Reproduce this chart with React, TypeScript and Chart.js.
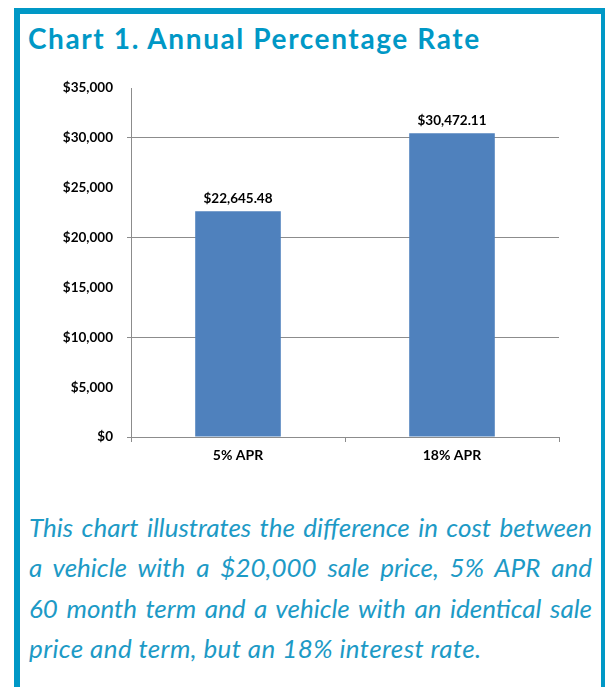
import React, { useEffect, useRef } from "react";
import { Chart, registerables } from "chart.js";

Chart.register(...registerables);

const titleText = "Chart 1. Annual Percentage Rate";
const categories = ["5% APR", "18% APR"];
const totalCost = [22645.48, 30472.11];
const valueLabels = ["$22,645.48", "$30,472.11"];
const yMin = 0;
const yMax = 35000;
const yStep = 5000;
const captionLines = [
  "This chart illustrates the difference in cost between",
  "a vehicle with a $20,000 sale price, 5% APR and",
  "60 month term and a vehicle with an identical sale",
  "price and term, but an 18% interest rate.",
];

const TEAL = "#0098c6";
const CAPTION = "#1d9ac6";
const BAR = "#4f81bd";
const AXIS = "#8c8c8c";

const valueLabelPlugin = {
  id: "valueLabels",
  afterDatasetsDraw(chart: any) {
    const ctx = chart.ctx;
    const meta = chart.getDatasetMeta(0);
    ctx.save();
    ctx.font = "bold 13.5px Lato";
    ctx.fillStyle = "#000";
    ctx.textAlign = "center";
    ctx.textBaseline = "alphabetic";
    meta.data.forEach((el: any, i: number) => {
      ctx.fillText(valueLabels[i], el.x, el.y - 8);
    });
    ctx.restore();
  },
};

export default function App() {
  const canvasRef = useRef<HTMLCanvasElement | null>(null);

  useEffect(() => {
    if (!canvasRef.current) return;
    const chart = new Chart(canvasRef.current, {
      type: "bar",
      data: {
        labels: categories,
        datasets: [
          {
            data: totalCost,
            backgroundColor: BAR,
            barPercentage: 0.4,
            categoryPercentage: 1,
          },
        ],
      },
      options: {
        animation: false,
        responsive: false,
        maintainAspectRatio: false,
        layout: { padding: { top: 10, right: 41, bottom: 0, left: 0 } },
        plugins: {
          legend: { display: false },
          tooltip: { enabled: false },
        },
        scales: {
          x: {
            grid: {
              offset: true,
              drawOnChartArea: false,
              tickLength: 5,
              tickColor: AXIS,
            },
            border: { color: AXIS, width: 1 },
            ticks: {
              color: "#000",
              font: { family: "Lato", weight: "bold", size: 14 },
              padding: 5,
            },
            afterFit: (scale: any) => {
              scale.height = 39;
            },
          },
          y: {
            min: yMin,
            max: yMax,
            grid: {
              tickLength: 4,
              color: (c: any) =>
                c.tick && c.tick.value > 0 && c.tick.value % 10000 === 0 ? AXIS : "rgba(0,0,0,0)",
              tickColor: (c: any) =>
                c.tick && c.tick.value % 10000 === 0 ? AXIS : "rgba(0,0,0,0)",
            },
            border: { color: AXIS, width: 1 },
            ticks: {
              stepSize: yStep,
              color: "#000",
              padding: 14,
              font: { family: "Lato", weight: "bold", size: 13.5 },
              callback: (v: any) => "$" + Number(v).toLocaleString("en-US"),
            },
            afterFit: (scale: any) => {
              scale.width = 111;
            },
          },
        },
      },
      plugins: [valueLabelPlugin],
    });
    if ((document as any).fonts) {
      (document as any).fonts.load("bold 13px Lato").then(() => chart.update());
    }
    return () => chart.destroy();
  }, []);

  return (
    <div>
      <div
        style={{
          position: "fixed",
          left: 14,
          top: 8,
          width: 593,
          height: 720,
          boxSizing: "border-box",
          border: `6px solid ${TEAL}`,
          background: "#fff",
        }}
      />
      <div
        style={{
          position: "fixed",
          left: 28,
          top: 22,
          fontFamily: "Lato",
          fontWeight: "bold",
          fontSize: 28,
          letterSpacing: "1.6px",
          lineHeight: "33px",
          color: TEAL,
          whiteSpace: "nowrap",
        }}
      >
        {titleText}
      </div>
      <div style={{ position: "fixed", left: 20, top: 66, width: 580, height: 410 }}>
        <canvas ref={canvasRef} width={580} height={410} style={{ width: 580, height: 410, display: "block" }} />
      </div>
      <div
        style={{
          position: "fixed",
          left: 29,
          top: 507,
          width: 563,
          fontFamily: "Lato",
          fontStyle: "italic",
          fontSize: 26,
          lineHeight: "40.3px",
          color: CAPTION,
        }}
      >
        {captionLines.map((line, i) => (
          <div
            key={i}
            style={{
              whiteSpace: "nowrap",
              textAlign: i < captionLines.length - 1 ? "justify" : "left",
              textAlignLast: i < captionLines.length - 1 ? "justify" : "left",
              letterSpacing: i === captionLines.length - 1 ? "0.4px" : undefined,
            }}
          >
            {line}
          </div>
        ))}
      </div>
    </div>
  );
}
